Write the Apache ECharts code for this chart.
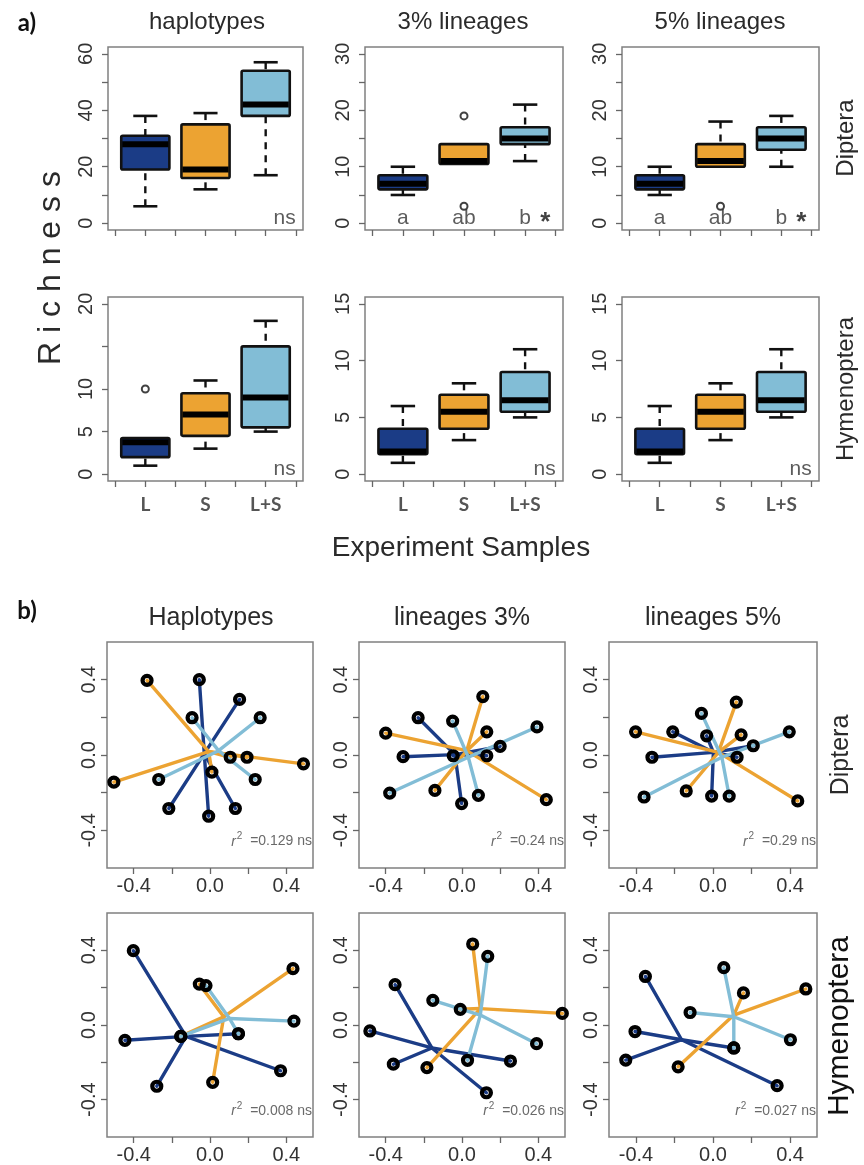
<!DOCTYPE html>
<html>
<head>
<meta charset="utf-8">
<script src="https://cdn.jsdelivr.net/npm/echarts@6.0.0/dist/echarts.min.js"></script>
<style>
html,body{margin:0;padding:0;background:#fff;}
#chart{width:864px;height:1165px;}
</style>
</head>
<body>
<div id="chart"></div>
<script>
// ---------------- data ----------------
const groups = ['L', 'S', 'L+S'];
const groupPositions = [1, 2, 3];
const groupColors = ['#1b3c86', '#eca332', '#82bdd6'];

// box statistics: [lower whisker, Q1, median, Q3, upper whisker] for L, S, L+S
const dipteraHaplotypes = [[6, 19, 28, 31, 38], [12, 16, 19, 35, 39], [17, 38, 42, 54, 57]];
const diptera3 = [[5, 6, 7, 8.5, 10], [10.5, 10.5, 11, 14, 14], [11, 14, 15, 17, 21]];
const diptera5 = [[5, 6, 7, 8.5, 10], [10, 10, 11, 14, 18], [10, 13, 15, 17, 19]];
const hymenopteraHaplotypes = [[1, 2, 3.75, 4.25, 4.25], [3, 4.5, 7, 9.5, 11], [5, 5.5, 9, 15, 18]];
const hymenoptera3 = [[1, 1.75, 2, 4, 6], [3, 4, 5.5, 7, 8], [5, 5.5, 6.5, 9, 11]];
const hymenoptera5 = [[1, 1.75, 2, 4, 6], [3, 4, 5.5, 7, 8], [5, 5.5, 6.5, 9, 11]];

// outliers: [group index, value]
const dipteraHaplotypesOut = [];
const diptera3Out = [[1, 19], [1, 3]];
const diptera5Out = [[1, 3]];
const hymenopteraHaplotypesOut = [[0, 10]];
const hymenoptera3Out = [];
const hymenoptera5Out = [];

// significance letters
const dipteraLetters = ['a', 'ab', 'b'];
const sigStar = '*';

// y-axis ticks / labels
const ticks60 = [0, 10, 20, 30, 40, 50, 60], labels60 = [0, 20, 40, 60];
const ticks30 = [0, 5, 10, 15, 20, 25, 30], labels30 = [0, 10, 20, 30];
const ticks20 = [0, 5, 10, 15, 20], labels20 = [0, 5, 10, 20];
const ticks15 = [0, 5, 10, 15], labels15 = [0, 5, 10, 15];
const xBoxTicks = [0.5, 1, 1.5, 2, 2.5, 3, 3.5];
const ordTicks = [-0.4, -0.2, 0, 0.2, 0.4], ordLabels = [-0.4, 0, 0.4];

// ordination spiders: centroids [x,y] per group and points [x, y, group]
const hapDipCtr = [[-0.03, 0.007], [-0.007, 0.018], [0.045, 0.023]];
const hapDipPts = [[-0.056, 0.40, 0], [0.155, 0.295, 0], [-0.216, -0.284, 0], [-0.007, -0.325, 0], [0.133, -0.284, 0],
  [-0.33, 0.396, 1], [-0.504, -0.144, 1], [0.49, -0.047, 1], [0.01, -0.091, 1], [0.106, -0.012, 1], [0.194, -0.012, 1],
  [-0.094, 0.198, 2], [0.263, 0.198, 2], [-0.269, -0.13, 2], [0.237, -0.13, 2]];
const l3DipCtr = [[-0.037, 0.002], [0.025, 0.023], [0.033, -0.012]];
const l3DipPts = [[-0.23, 0.198, 0], [-0.309, -0.009, 0], [-0.002, -0.258, 0], [0.2, 0.046, 0], [-0.046, -0.004, 0], [0.13, -0.004, 0],
  [-0.4, 0.116, 1], [0.109, 0.31, 1], [0.13, 0.123, 1], [-0.142, -0.188, 1], [0.442, -0.237, 1],
  [-0.049, 0.18, 2], [0.393, 0.149, 2], [-0.379, -0.202, 2], [0.086, -0.214, 2]];
const l5DipCtr = [[0.002, 0.014], [0.028, 0.014], [0.046, -0.012]];
const l5DipPts = [[-0.209, 0.123, 0], [-0.317, -0.012, 0], [-0.033, 0.102, 0], [-0.007, -0.218, 0], [0.209, 0.049, 0], [0.125, -0.012, 0],
  [-0.402, 0.123, 1], [0.121, 0.281, 1], [0.146, 0.107, 1], [-0.139, -0.191, 1], [0.44, -0.244, 1],
  [-0.06, 0.221, 2], [0.396, 0.123, 2], [-0.358, -0.223, 2], [0.084, -0.218, 2]];
const hapHymCtr = [[-0.126, -0.061], [0.072, 0.044], [0.102, 0.035]];
const hapHymPts = [[-0.402, 0.398, 0], [-0.446, -0.082, 0], [-0.279, -0.328, 0], [0.149, -0.047, 0], [0.37, -0.245, 0],
  [-0.056, 0.219, 1], [0.435, 0.302, 1], [0.014, -0.307, 1], [-0.153, -0.061, 1],
  [-0.021, 0.211, 2], [0.44, 0.021, 2], [0.149, -0.047, 2], [-0.153, -0.061, 2]];
const l3HymCtr = [[-0.158, -0.123], [0.096, 0.088], [0.096, 0.053]];
const l3HymPts = [[-0.351, 0.216, 0], [-0.483, -0.032, 0], [-0.36, -0.21, 0], [0.254, -0.193, 0], [0.128, -0.363, 0],
  [0.056, 0.434, 1], [0.526, 0.062, 1], [-0.184, -0.228, 1], [-0.009, 0.084, 1],
  [0.135, 0.368, 2], [-0.153, 0.132, 2], [0.391, -0.1, 2], [0.029, -0.189, 2]];
const l5HymCtr = [[-0.163, -0.079], [0.108, 0.053], [0.108, 0.044]];
const l5HymPts = [[-0.351, 0.26, 0], [-0.405, -0.035, 0], [-0.453, -0.188, 0], [0.108, -0.123, 0], [0.333, -0.325, 0],
  [0.158, 0.172, 1], [0.482, 0.193, 1], [-0.181, -0.224, 1],
  [0.056, 0.307, 2], [-0.119, 0.067, 2], [0.402, -0.079, 2], [0.108, -0.123, 2]];
const r2Values = ['0.129', '0.24', '0.29', '0.008', '0.026', '0.027'];

// ---------------- layout ----------------
const FONT = 'Liberation Sans';
const aLeft = [108, 365, 622], aWidth = [195, 198, 197];
const aTop = [47, 297], aHeight = [183, 184];
const bLeft = [107, 359, 609], bWidth = [206, 206, 208];
const bTop = [642, 913], bHeight = [226, 226];

const boxPanels = [
  { stats: dipteraHaplotypes, out: dipteraHaplotypesOut, max: 60, ticks: ticks60, labels: labels60, letters: null },
  { stats: diptera3, out: diptera3Out, max: 30, ticks: ticks30, labels: labels30, letters: dipteraLetters },
  { stats: diptera5, out: diptera5Out, max: 30, ticks: ticks30, labels: labels30, letters: dipteraLetters },
  { stats: hymenopteraHaplotypes, out: hymenopteraHaplotypesOut, max: 20, ticks: ticks20, labels: labels20, letters: null },
  { stats: hymenoptera3, out: hymenoptera3Out, max: 15, ticks: ticks15, labels: labels15, letters: null },
  { stats: hymenoptera5, out: hymenoptera5Out, max: 15, ticks: ticks15, labels: labels15, letters: null }
];
const spiderPanels = [
  { ctr: hapDipCtr, pts: hapDipPts }, { ctr: l3DipCtr, pts: l3DipPts }, { ctr: l5DipCtr, pts: l5DipPts },
  { ctr: hapHymCtr, pts: hapHymPts }, { ctr: l3HymCtr, pts: l3HymPts }, { ctr: l5HymCtr, pts: l5HymPts }
];

function renderBox(params, api) {
  const x = api.value(0);
  const lo = api.value(1), q1 = api.value(2), md = api.value(3), q3 = api.value(4), hi = api.value(5);
  const g = api.value(6);
  const hw = api.size([0.4, 0])[0];
  const cw = api.size([0.2, 0])[0];
  const c = v => api.coord([x, v]);
  const pLo = c(lo), pQ1 = c(q1), pMd = c(md), pQ3 = c(q3), pHi = c(hi);
  const cx = pMd[0];
  const ink = '#111';
  const children = [];
  const wStyle = { stroke: ink, lineWidth: 2.4, lineDash: [7, 6] };
  if (hi > q3) {
    children.push({ type: 'line', shape: { x1: cx, y1: pHi[1], x2: cx, y2: pQ3[1] }, style: wStyle });
    children.push({ type: 'line', shape: { x1: cx - cw, y1: pHi[1], x2: cx + cw, y2: pHi[1] }, style: { stroke: ink, lineWidth: 2.6 } });
  }
  if (lo < q1) {
    children.push({ type: 'line', shape: { x1: cx, y1: pLo[1], x2: cx, y2: pQ1[1] }, style: wStyle });
    children.push({ type: 'line', shape: { x1: cx - cw, y1: pLo[1], x2: cx + cw, y2: pLo[1] }, style: { stroke: ink, lineWidth: 2.6 } });
  }
  children.push({ type: 'rect', shape: { x: cx - hw, y: pQ3[1], width: 2 * hw, height: pQ1[1] - pQ3[1], r: 1.5 },
    style: { fill: groupColors[g], stroke: ink, lineWidth: 2.6 } });
  children.push({ type: 'line', shape: { x1: cx - hw + 1, y1: pMd[1], x2: cx + hw - 1, y2: pMd[1] }, style: { stroke: '#000', lineWidth: 6 } });
  return { type: 'group', children };
}

function makeSpiderRender(ctr) {
  return function (params, api) {
    const g = api.value(2);
    const a = api.coord(ctr[g]);
    const b = api.coord([api.value(0), api.value(1)]);
    return { type: 'line', shape: { x1: a[0], y1: a[1], x2: b[0], y2: b[1] },
      style: { stroke: groupColors[g], lineWidth: 3.4, lineCap: 'round' } };
  };
}

const option = { animation: false, backgroundColor: '#ffffff', grid: [], xAxis: [], yAxis: [], series: [], graphic: [] };

const tickStyle = { color: '#666', width: 1.3 };
const hiddenLine = { show: false, onZero: false };

boxPanels.forEach((p, i) => {
  const row = Math.floor(i / 3), col = i % 3;
  const lo = -0.04 * p.max, hi = 1.04 * p.max;
  option.grid.push({ left: aLeft[col], top: aTop[row], width: aWidth[col], height: aHeight[row], show: true,
    borderColor: '#808080', borderWidth: 1.5, backgroundColor: 'transparent' });
  option.xAxis.push({ gridIndex: i, type: 'value', min: 0.38, max: 3.62, position: 'bottom',
    axisLine: hiddenLine, splitLine: { show: false },
    axisTick: { show: true, length: 6, lineStyle: tickStyle, customValues: xBoxTicks },
    axisLabel: { show: row === 1, customValues: groupPositions, formatter: v => groups[Math.round(v) - 1],
      fontFamily: 'Lato', fontWeight: 'bold', fontSize: 19, color: '#555', margin: 14 } });
  option.yAxis.push({ gridIndex: i, type: 'value', min: lo, max: hi, position: 'left',
    axisLine: hiddenLine, splitLine: { show: false },
    axisTick: { show: true, length: 6, lineStyle: tickStyle, customValues: p.ticks },
    axisLabel: { customValues: p.labels, rotate: 90, fontFamily: FONT, fontSize: 20, color: '#333', margin: 12 } });
  option.series.push({ type: 'custom', xAxisIndex: i, yAxisIndex: i, renderItem: renderBox, z: 3,
    encode: { x: 0, y: [1, 2, 3, 4, 5] },
    data: p.stats.map((s, k) => [groupPositions[k], s[0], s[1], s[2], s[3], s[4], k]) });
  if (p.out.length) {
    option.series.push({ type: 'scatter', xAxisIndex: i, yAxisIndex: i, z: 4, symbol: 'circle', symbolSize: 7,
      itemStyle: { color: '#fff', borderColor: '#111', borderWidth: 2 },
      data: p.out.map(o => [groupPositions[o[0]], o[1]]) });
  }
  const ann = [];
  if (p.letters) {
    p.letters.forEach((t, k) => ann.push({ value: [groupPositions[k], 0.028 * p.max], name: t }));
    ann.push({ value: [3.33, 0.028 * p.max], name: sigStar, label: { fontSize: 26, fontWeight: 'bold', color: '#111', offset: [0, 4] } });
  } else {
    ann.push({ value: [3.5, 0.03 * p.max], name: 'ns', label: { align: 'right' } });
  }
  option.series.push({ type: 'scatter', xAxisIndex: i, yAxisIndex: i, z: 5, symbolSize: 1, silent: true,
    itemStyle: { color: 'rgba(0,0,0,0)' },
    label: { show: true, position: 'inside', formatter: '{b}', fontFamily: FONT, fontSize: 21, color: '#333' },
    data: ann });
});

spiderPanels.forEach((p, j) => {
  const i = j + 6;
  const row = Math.floor(j / 3), col = j % 3;
  option.grid.push({ left: bLeft[col], top: bTop[row], width: bWidth[col], height: bHeight[row], show: true,
    borderColor: '#808080', borderWidth: 1.5, backgroundColor: 'transparent' });
  option.xAxis.push({ gridIndex: i, type: 'value', min: -0.54, max: 0.54, position: 'bottom',
    axisLine: hiddenLine, splitLine: { show: false },
    axisTick: { show: true, length: 6, lineStyle: tickStyle, customValues: ordTicks },
    axisLabel: { customValues: ordLabels, formatter: v => v.toFixed(1), fontFamily: FONT, fontSize: 20, color: '#333', margin: 8 } });
  option.yAxis.push({ gridIndex: i, type: 'value', min: -0.6, max: 0.6, position: 'left',
    axisLine: hiddenLine, splitLine: { show: false },
    axisTick: { show: true, length: 6, lineStyle: tickStyle, customValues: ordTicks },
    axisLabel: { customValues: ordLabels, formatter: v => v.toFixed(1), rotate: 90, fontFamily: FONT, fontSize: 20, color: '#333', margin: 8 } });
  option.series.push({ type: 'custom', xAxisIndex: i, yAxisIndex: i, z: 3, renderItem: makeSpiderRender(p.ctr),
    encode: { x: 0, y: 1 }, data: p.pts });
  option.series.push({ type: 'scatter', xAxisIndex: i, yAxisIndex: i, z: 4, symbol: 'circle', symbolSize: 9,
    itemStyle: { color: 'rgba(0,0,0,0)', borderColor: '#000', borderWidth: 4.2, opacity: 1 },
    data: p.pts.map(q => [q[0], q[1]]) });
  option.series.push({ type: 'scatter', xAxisIndex: i, yAxisIndex: i, z: 5, symbolSize: 1, silent: true,
    itemStyle: { color: 'rgba(0,0,0,0)' },
    label: { show: true, position: 'inside', align: 'right', formatter: '{i|r}{s|2}{n|  =' + r2Values[j] + ' ns}',
      rich: { i: { fontFamily: FONT, fontStyle: 'italic', fontSize: 14, color: '#444' },
              s: { fontFamily: FONT, fontSize: 10, color: '#444', padding: [0, 0, 10, 1] },
              n: { fontFamily: FONT, fontSize: 14, color: '#444' } } },
    data: [{ value: [0.535, -0.46], name: '' }] });
});

function txt(text, x, y, size, opts) {
  opts = opts || {};
  return { type: 'text', x: x, y: y, rotation: opts.rot || 0, silent: true, z: 10,
    style: { text: text, x: 0, y: 0, font: (opts.weight || 'normal') + ' ' + size + 'px ' + (opts.family || FONT),
      fill: opts.color || '#2a2a2a', textAlign: 'center', textVerticalAlign: 'middle', align: 'center', verticalAlign: 'middle' } };
}
const R = Math.PI / 2;
option.graphic = [
  txt('a)', 27, 23, 24, { weight: 'bold', family: 'Lato', color: '#111' }),
  txt('b)', 27, 611, 24, { weight: 'bold', family: 'Lato', color: '#111' }),
  txt('haplotypes', 207, 22, 24),
  txt('3% lineages', 463, 22, 24),
  txt('5% lineages', 720, 22, 24),
  txt('Diptera', 846, 138, 24, { rot: R }),
  txt('Hymenoptera', 846, 389, 24, { rot: R }),
  txt('R i c h n e s s', 51, 268, 32, { rot: R }),
  txt('Experiment Samples', 461, 548, 28),
  txt('Haplotypes', 211, 618, 25),
  txt('lineages 3%', 462, 618, 25),
  txt('lineages 5%', 713, 618, 25),
  txt('Diptera', 841, 755, 25, { rot: R }),
  txt('Hymenoptera', 840, 1026, 30, { rot: R, color: '#111' })
];

const chart = echarts.init(document.getElementById('chart'), null, { renderer: 'canvas' });
chart.setOption(option);
</script>
</body>
</html>
